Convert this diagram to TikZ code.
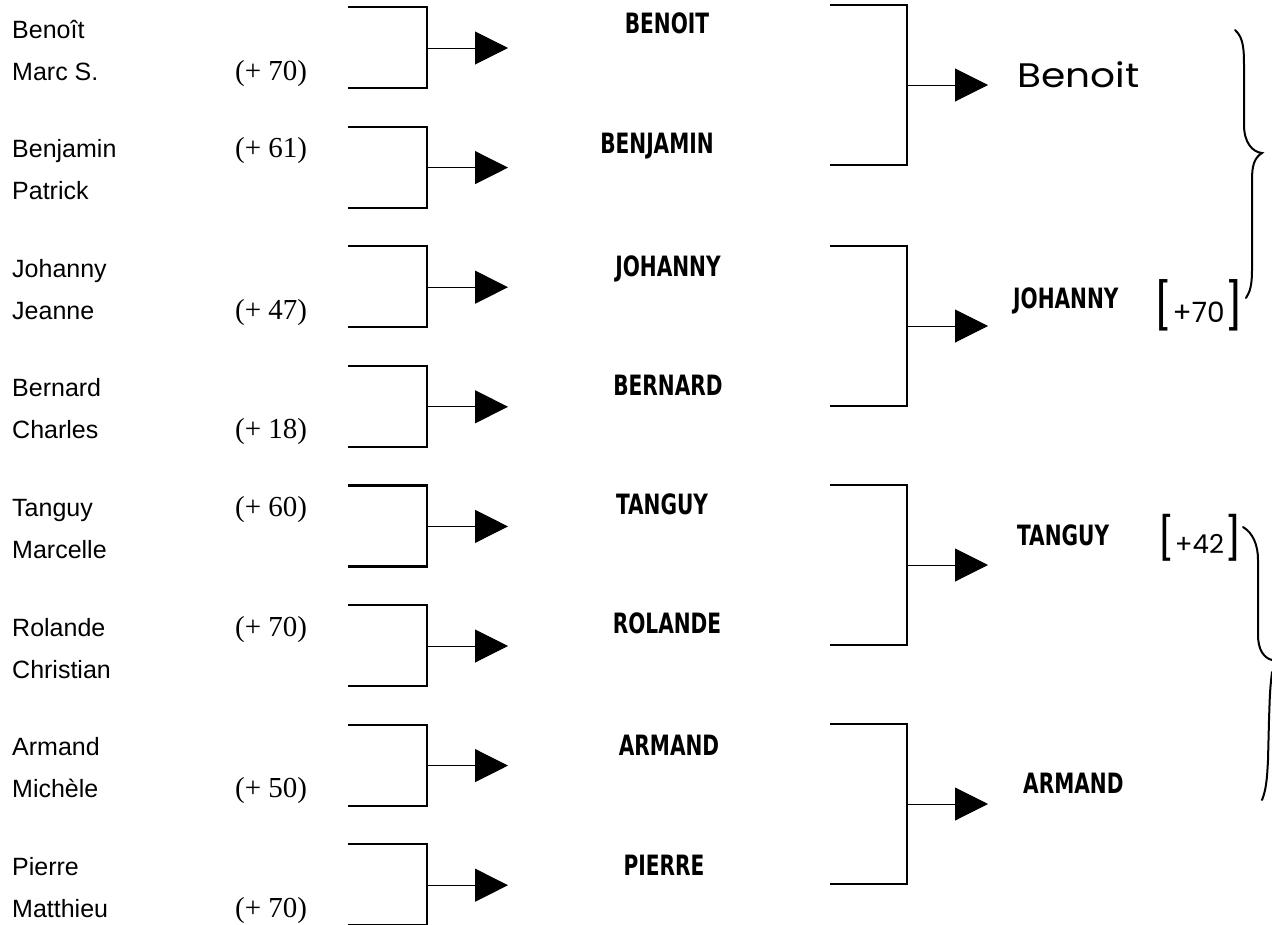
\documentclass[tikz,border=0pt]{standalone}
\usepackage{fontspec}
\setmainfont{Liberation Sans}
\newfontfamily\scorefont{Liberation Serif}
\newfontfamily\decofont{DejaVu Sans Condensed Bold}
\newfontfamily\handfont{Poppins}
\usetikzlibrary{arrows.meta}
\begin{document}
\begin{tikzpicture}[x=1pt,y=-1pt,
  person/.style={anchor=base west,inner sep=0,font=\fontsize{25}{25}\selectfont},
  score/.style={anchor=base west,inner sep=0,font=\scorefont\fontsize{29}{29}\selectfont},
  deco/.style={inner sep=0,xscale=0.8,font=\decofont\fontsize{28}{28}\selectfont},
  hand/.style={anchor=base west,inner sep=0,font=\handfont\fontsize{34}{34}\selectfont},
  brk/.style={line width=2.2pt},
  conn/.style={line width=1pt,-{Triangle[length=33pt,width=33pt]}},
  bracestyle/.style={line width=2pt,line cap=round}]
\useasboundingbox (0,0) rectangle (1272,924);
\clip (0,0) rectangle (1272,924);

% first column: pairs of players
\foreach \a/\b [count=\k from 0] in {Benoît/Marc S.,Benjamin/Patrick,Johanny/Jeanne,Bernard/Charles,Tanguy/Marcelle,Rolande/Christian,Armand/Michèle,Pierre/Matthieu}{
  \node[person] (na\k) at (12,38+119.6*\k) {\a};
  \node[person] (nb\k) at (12,80+119.6*\k) {\b};
}

% scores
\node[score] (s0) at (235,80) {(+ 70)};
\node[score] (s1) at (235,157.6) {(+ 61)};
\node[score] (s2) at (235,319.2) {(+ 47)};
\node[score] (s3) at (235,438.8) {(+ 18)};
\node[score] (s4) at (235,516.4) {(+ 60)};
\node[score] (s5) at (235,636) {(+ 70)};
\node[score] (s6) at (235,797.6) {(+ 50)};
\node[score] (s7) at (235,917.2) {(+ 70)};

% first-round brackets and arrows
\foreach \k in {0,...,7}{
  \coordinate (pt\k) at (348,7+119.6*\k);
  \coordinate (pr\k) at (427,7+119.6*\k);
  \coordinate (prb\k) at (427,88+119.6*\k);
  \coordinate (pb\k) at (348,88+119.6*\k);
  \coordinate (pm\k) at (427,48+119.6*\k);
  \coordinate (pa\k) at (508,48+119.6*\k);
  \draw[brk] (pt\k) -- (pr\k) -- (prb\k) -- (pb\k);
  \draw[conn] (pm\k) -- (pa\k);
}

% second-round names
\node[deco,anchor=base] (m0) at (667,33) {BENOIT};
\node[deco,anchor=base] (m1) at (657,153) {BENJAMIN};
\node[deco,anchor=base] (m2) at (668,276) {JOHANNY};
\node[deco,anchor=base] (m3) at (668,395) {BERNARD};
\node[deco,anchor=base] (m4) at (662,514) {TANGUY};
\node[deco,anchor=base] (m5) at (667,633) {ROLANDE};
\node[deco,anchor=base] (m6) at (669,755) {ARMAND};
\node[deco,anchor=base] (m7) at (664,875) {PIERRE};

% second-round brackets and arrows
\foreach \t [count=\j from 0] in {5,246,485,724}{
  \coordinate (qt\j) at (830,\t);
  \coordinate (qr\j) at (907,\t);
  \coordinate (qrb\j) at (907,\t+160);
  \coordinate (qb\j) at (830,\t+160);
  \coordinate (qm\j) at (907,\t+80);
  \coordinate (qa\j) at (988,\t+80);
  \draw[brk] (qt\j) -- (qr\j) -- (qrb\j) -- (qb\j);
  \draw[conn] (qm\j) -- (qa\j);
}

% third-round results
\node[hand,xscale=1.15] (f0) at (1017,87) {Benoit};
\node[deco,anchor=base west] (f1) at (1013,308) {JOHANNY};
\node[hand] (g1) at (1153,322) {\fontsize{46}{46}\selectfont[\fontsize{28}{28}\selectfont+70\fontsize{46}{46}\selectfont]};
\node[deco,anchor=base west] (f2) at (1017,545) {TANGUY};
\node[hand] (g2) at (1157,553) {\fontsize{42}{42}\selectfont[\fontsize{26}{26}\selectfont+42\fontsize{42}{42}\selectfont]};
\node[deco,anchor=base west] (f3) at (1023,793) {ARMAND};

% hand-drawn braces
\draw[bracestyle] (1235,30) .. controls (1244,38) and (1244,50) .. (1244,70)
  -- (1244,125) .. controls (1244,142) and (1252,152) .. (1262,153)
  .. controls (1254,158) and (1252,166) .. (1252,180)
  -- (1252,270) .. controls (1252,285) and (1250,292) .. (1246,298);
\draw[bracestyle] (1243,527) .. controls (1253,533) and (1258,545) .. (1258,560)
  -- (1258,635) .. controls (1258,650) and (1264,658) .. (1272,660);
\draw[bracestyle] (1272,672) .. controls (1270,690) .. (1269,720)
  -- (1268,760) .. controls (1267,780) and (1266,790) .. (1262,800);
\end{tikzpicture}
\end{document}
